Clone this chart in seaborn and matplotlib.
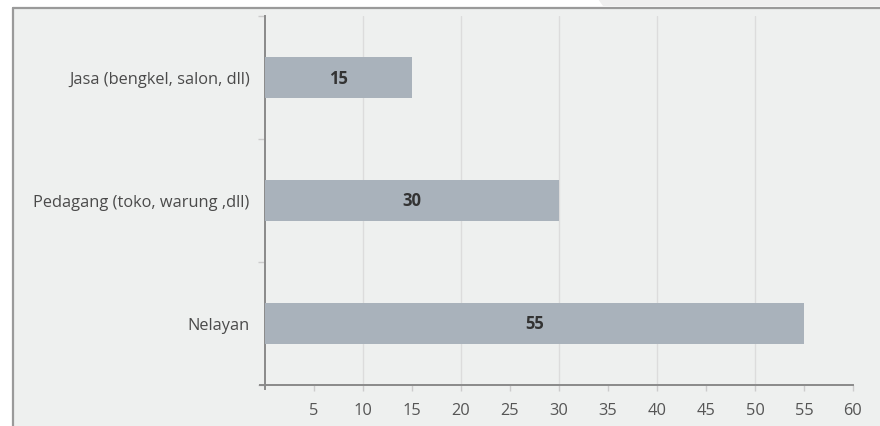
import matplotlib
matplotlib.use("Agg")
import matplotlib.pyplot as plt
import matplotlib.patches as mpatches
import seaborn as sns
import pandas as pd

categories = ["Jasa (bengkel, salon, dll)", "Pedagang (toko, warung ,dll)", "Nelayan"]
values = [15, 30, 55]
x_ticks = [5, 10, 15, 20, 25, 30, 35, 40, 45, 50, 55, 60]

df = pd.DataFrame({"kategori": categories, "jumlah": values})

sns.set_theme(style="white")
plt.rcParams["font.family"] = ["Open Sans", "DejaVu Sans"]

W, H = 880, 427
fig = plt.figure(figsize=(W / 100, H / 100), dpi=100)
fig.patch.set_facecolor("white")

# background axes for the panel
bg = fig.add_axes([0, 0, 1, 1])
bg.set_xlim(0, W)
bg.set_ylim(H, 0)
bg.axis("off")
bg.set_zorder(0)
bg.add_patch(mpatches.Rectangle((13, 9), W, H, facecolor="#eef0ef", edgecolor="none"))
bg.add_patch(mpatches.Polygon([(598, 0), (W, 0), (W, 7), (603, 7)], closed=True,
                              facecolor="#efefef", edgecolor="none"))
bg.plot([13, 13], [9, H], color="#9a9a9a", lw=1.6)
bg.plot([13, W], [9, 9], color="#9a9a9a", lw=1.6)

ax = fig.add_axes([265 / W, 1 - 386 / H, (853 - 265) / W, (386 - 17) / H])
ax.set_zorder(2)
ax.set_facecolor("none")

sns.barplot(data=df, x="jumlah", y="kategori", orient="h", color="#a9b2bb",
            width=0.34, saturation=1, linewidth=0, ax=ax, zorder=3)

ax.set_xlim(0, 60)
ax.set_ylim(2.5, -0.5)
ax.set_xlabel("")
ax.set_ylabel("")

ax.set_xticks(x_ticks)
ax.set_xticklabels([str(t) for t in x_ticks])
ax.tick_params(axis="x", length=4, width=1, color="#cccccc", labelsize=11.8,
               labelcolor="#555555", pad=8, bottom=True)

ax.set_yticks(range(len(categories)))
ax.set_yticklabels(categories)
ax.tick_params(axis="y", length=0, labelsize=11.8, labelcolor="#4a4a4a", pad=11)
ax.set_yticks([-0.5, 0.5, 1.5, 2.5], minor=True)
ax.tick_params(axis="y", which="minor", length=5, width=1, color="#cccccc", left=True)

# vertical gridlines every 10
for v in [10, 20, 30, 40, 50]:
    ax.axvline(v, color="#dcdcdc", lw=1, zorder=1)

for s in ["top", "right"]:
    ax.spines[s].set_visible(False)
ax.spines["left"].set_color("#8a8a8a")
ax.spines["left"].set_linewidth(1.4)
ax.spines["left"].set_bounds(2.53, -0.5)
ax.spines["left"].set_clip_on(False)
ax.spines["bottom"].set_color("#8a8a8a")
ax.spines["bottom"].set_linewidth(1.4)
ax.spines["bottom"].set_bounds(-0.5, 60)
ax.spines["bottom"].set_clip_on(False)

for i, v in enumerate(values):
    ax.text(v / 2, i, str(v), ha="center", va="center", fontsize=12,
            fontweight="bold", color="#333333", zorder=4)

fig.savefig("out.png", dpi=100, facecolor="white")
